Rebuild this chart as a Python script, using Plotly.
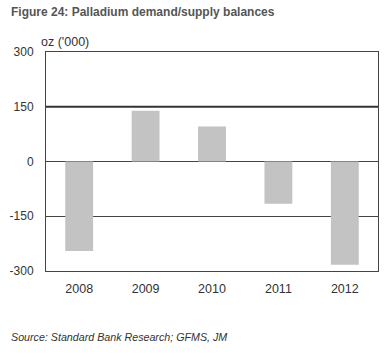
import plotly.graph_objects as go

years = ["2008", "2009", "2010", "2011", "2012"]
balance = [-245, 139, 96, -116, -283]
ytick_vals = [-300, -150, 0, 150, 300]
ytick_text = ["-300", "-150", "0", "150", "300"]
highlight_level = 150

fig = go.Figure()
fig.add_trace(go.Bar(x=years, y=balance, marker=dict(color="#c3c3c3", line=dict(width=0)),
                     width=0.42, hoverinfo="skip"))

fig.update_layout(
    width=389, height=357,
    margin=dict(l=44, r=10, t=52, b=86),
    paper_bgcolor="white", plot_bgcolor="white",
    showlegend=False,
    font=dict(family="Liberation Sans, Arial, sans-serif", size=11, color="#333333"),
)
fig.update_xaxes(
    showgrid=False, showline=True, linecolor="#444444", linewidth=1, mirror=True,
    ticks="", ticklabelstandoff=6, tickfont=dict(size=12.5, color="#333333"),
)
fig.update_yaxes(
    range=[-300, 300], tickvals=ytick_vals, ticktext=ytick_text,
    showgrid=True, gridcolor="#444444", gridwidth=1,
    zeroline=True, zerolinecolor="#444444", zerolinewidth=1,
    showline=True, linecolor="#444444", linewidth=1, mirror=True,
    ticks="", ticklabelstandoff=9, tickfont=dict(size=12, color="#333333"),
)
fig.add_shape(type="line", xref="paper", yref="y", x0=0, x1=1,
              y0=highlight_level, y1=highlight_level,
              line=dict(color="#333333", width=2))

fig.add_annotation(text="<b>Figure 24: Palladium demand/supply balances</b>",
                   xref="paper", yref="paper", x=-0.110, y=1.0, yanchor="bottom",
                   xanchor="left", yshift=31, showarrow=False,
                   font=dict(size=12, color="#555555"))
fig.add_annotation(text="oz ('000)", xref="paper", yref="paper", x=-0.022, y=1.0,
                   xanchor="left", yanchor="bottom", yshift=1, showarrow=False,
                   font=dict(size=12.5, color="#333333"))
fig.add_annotation(text="<i>Source: Standard Bank Research; GFMS, JM</i>",
                   xref="paper", yref="paper", x=-0.110, y=0, xanchor="left",
                   yanchor="top", yshift=-58, showarrow=False,
                   font=dict(size=10.7, color="#333333"))

fig.write_html("out.html", config={"displayModeBar": False},
               post_script="document.body.style.margin='0px';")
